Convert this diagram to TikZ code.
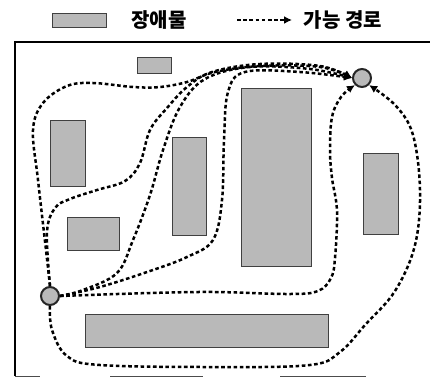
\documentclass[tikz,border=0pt]{standalone}
\usepackage{fontspec}
\newfontfamily\kr{Noto Sans CJK KR}
\usetikzlibrary{arrows.meta}
\tikzset{
  obst/.style={fill=gray!55, draw=gray!50!black, line width=0.8pt},
  route/.style={line width=2.5pt, dash pattern=on 3.6pt off 2.6pt, -{Latex[length=8pt,width=8pt]}},
  endpt/.style={circle, minimum size=18pt, inner sep=0pt, fill=gray!55, draw=black!85, line width=2pt},
  frameline/.style={line width=2pt},
  lbl/.style={font=\kr\bfseries\fontsize{20}{20}\selectfont, inner sep=0pt}
}
\begin{document}
\begin{tikzpicture}[x=1pt,y=-1pt]
\useasboundingbox (0,0) rectangle (430,378);
% legend
\node[obst, minimum width=54pt, minimum height=14pt, inner sep=0pt] (lg) at (79,20) {};
\node[lbl] (lt1) at (159,20) {장애물};
\coordinate (la) at (237,20);
\coordinate (lb) at (292,20);
\draw[route] (la) -- (lb);
\node[lbl] (lt2) at (343,20) {가능 경로};
% frame
\coordinate (f1) at (15,376);
\coordinate (f2) at (15,42);
\coordinate (f3) at (430,42);
\draw[frameline] (f1) -- (f2) -- (f3);
\coordinate (b1) at (15,376); \coordinate (b2) at (40,376);
\coordinate (b3) at (110,376); \coordinate (b4) at (203,376);
\coordinate (b5) at (280,376); \coordinate (b6) at (366,376);
\draw[line width=1pt, gray!60!black] (b1) -- (b2) (b3) -- (b4) (b5) -- (b6);
% obstacles
\node[obst, minimum width=34pt, minimum height=16pt, inner sep=0pt] (o1) at (154,65) {};
\node[obst, minimum width=35pt, minimum height=66pt, inner sep=0pt] (o2) at (67.5,153.5) {};
\node[obst, minimum width=52pt, minimum height=33pt, inner sep=0pt] (o3) at (93,233.5) {};
\node[obst, minimum width=34pt, minimum height=98pt, inner sep=0pt] (o4) at (189,186) {};
\node[obst, minimum width=70pt, minimum height=178pt, inner sep=0pt] (o5) at (276,177) {};
\node[obst, minimum width=35pt, minimum height=81pt, inner sep=0pt] (o6) at (380.5,193.5) {};
\node[obst, minimum width=243pt, minimum height=33pt, inner sep=0pt] (o7) at (206.5,330.5) {};
% endpoints
\node[endpt] (S) at (50,296) {};
\node[endpt] (G) at (362,78) {};
% routes
\draw[route] plot[smooth, tension=0.6] coordinates {(S.north) (46,250) (38,180) (33,130) (43,103) (67,86) (93,83) (133,87) (160,87) (187,82) (215,72) (260,66) (320,67) (G.west)};
\draw[route] plot[smooth, tension=0.6] coordinates {(S.north) (47,232) (55,208) (70,199) (97,190) (125,181) (140,163) (150,130) (167,108) (187,87) (212,72) (260,64) (320,66) (G.west)};
\draw[route] plot[smooth, tension=0.6] coordinates {(S.east) (83,290) (117,273) (133,240) (150,195) (163,150) (180,107) (205,79) (250,67) (310,69) (G.west)};
\draw[route] plot[smooth, tension=0.6] coordinates {(S.east) (100,287) (150,271) (187,257) (213,240) (222,200) (224,140) (228,92) (245,72) (300,72) (G.west)};
\draw[route] plot[smooth, tension=0.6] coordinates {(S.east) (150,293) (215,292) (290,294) (318,291) (331,278) (335,258) (337,211) (332,178) (330,150) (332,117) (341,97) (G.south west)};
\draw[route] plot[smooth, tension=0.6] coordinates {(S.south) (52,330) (67,356) (100,365) (215,367) (310,365) (340,352) (365,325) (395,291) (415,245) (420,190) (413,135) (396,106) (G.south east)};
\end{tikzpicture}
\end{document}
